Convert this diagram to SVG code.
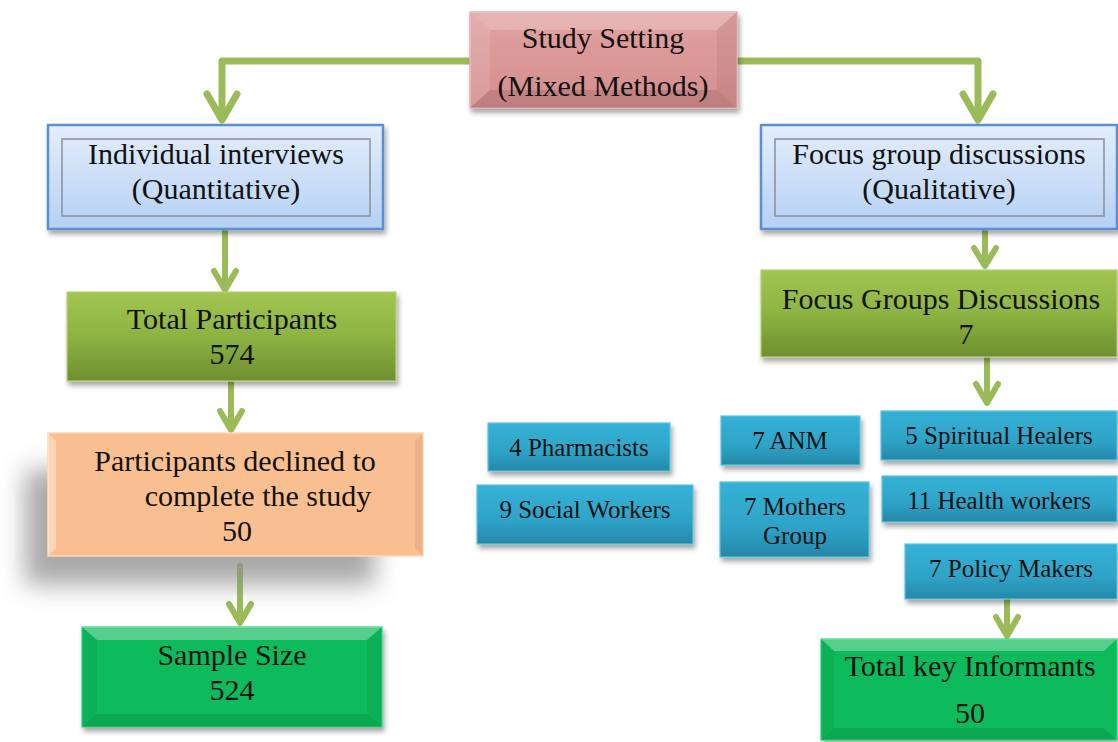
<svg xmlns="http://www.w3.org/2000/svg" width="1118" height="742" viewBox="0 0 1118 742">
  <defs>
    <linearGradient id="gPink" x1="0" y1="0" x2="0" y2="1">
      <stop offset="0" stop-color="#e0a3a2"/>
      <stop offset="1" stop-color="#d48d8c"/>
    </linearGradient>
    <linearGradient id="gFrame" x1="0" y1="0" x2="0" y2="1">
      <stop offset="0" stop-color="#e4eefb"/>
      <stop offset="1" stop-color="#b4d0f4"/>
    </linearGradient>
    <linearGradient id="gOlive" x1="0" y1="0" x2="0" y2="1">
      <stop offset="0" stop-color="#a3c552"/>
      <stop offset="0.5" stop-color="#8db342"/>
      <stop offset="1" stop-color="#6e8f2f"/>
    </linearGradient>
    <linearGradient id="gTeal" x1="0" y1="0" x2="0" y2="1">
      <stop offset="0" stop-color="#35b2d6"/>
      <stop offset="0.6" stop-color="#2ea3c7"/>
      <stop offset="1" stop-color="#2687a8"/>
    </linearGradient>
    <filter id="shadow" x="-10%" y="-10%" width="125%" height="135%">
      <feDropShadow dx="2" dy="4" stdDeviation="2.5" flood-color="#000" flood-opacity="0.35"/>
    </filter>
    <filter id="bigBlur" x="-30%" y="-40%" width="160%" height="180%">
      <feGaussianBlur stdDeviation="12"/>
    </filter>
  </defs>
  <style>
    text { font-family: "Liberation Serif", "Times New Roman", serif; fill: #111; text-anchor: middle; }
    .big { font-size: 30px; }
    .mid { font-size: 30px; }
    .sm { font-size: 25px; }
    .conn { fill: none; stroke: #9bbb59; stroke-width: 7; stroke-linecap: round; stroke-linejoin: round; }
    .conn2 { fill: none; stroke: #9bbb59; stroke-width: 6; stroke-linecap: round; stroke-linejoin: round; }
    .frame { fill: url(#gFrame); stroke: #5b8fd0; stroke-width: 2.5; filter: url(#shadow); }
    .inner { fill: none; stroke: #8a8f98; stroke-width: 1.5; }
    .teal { fill: url(#gTeal); stroke: #5cc3e0; stroke-width: 1.2; filter: url(#shadow); }
    .hi { fill: #ffffff; }
    .lo { fill: #000000; }
  </style>

  <!-- connectors -->
  <g id="connectors">
    <path class="conn" d="M470 61 H222 V119"/>
    <path class="conn" d="M207 94 L222 120 L237 94"/>
    <path class="conn" d="M737 61 H978 V119"/>
    <path class="conn" d="M963 94 L978 120 L993 94"/>
    <path class="conn2" d="M225 231 V289"/>
    <path class="conn2" d="M214 271 L225 290 L236 271"/>
    <path class="conn2" d="M231 383 V429"/>
    <path class="conn2" d="M220 411 L231 430 L242 411"/>
    <path class="conn2" d="M240 566 V622"/>
    <path class="conn2" d="M229 604 L240 623 L251 604"/>
    <path class="conn2" d="M985 231 V265"/>
    <path class="conn2" d="M974 248 L985 266 L996 248"/>
    <path class="conn2" d="M987 359 V402"/>
    <path class="conn2" d="M976 384 L987 403 L998 384"/>
    <path class="conn2" d="M1007 601 V635"/>
    <path class="conn2" d="M996 617 L1007 636 L1018 617"/>
  </g>

  <!-- Study Setting -->
  <g id="study-setting">
    <rect x="470" y="12" width="267" height="96" fill="url(#gPink)" stroke="#e6b3b2" stroke-width="1.5" filter="url(#shadow)"/>
    <polygon class="hi" opacity="0.2" points="470,12 737,12 717,30 490,30"/>
    <polygon class="hi" opacity="0.12" points="470,12 490,30 490,90 470,108"/>
    <polygon class="lo" opacity="0.06" points="737,12 737,108 717,90 717,30"/>
    <polygon class="lo" opacity="0.1" points="470,108 490,90 717,90 737,108"/>
    <text class="big" x="603" y="48">Study Setting</text>
    <text class="big" x="603" y="96">(Mixed Methods)</text>
  </g>

  <!-- Individual interviews -->
  <g id="individual-interviews">
    <rect class="frame" x="48" y="125" width="335" height="104"/>
    <rect class="inner" x="62" y="139" width="308" height="77"/>
    <text class="mid" x="216" y="164">Individual interviews</text>
    <text class="mid" x="216" y="199">(Quantitative)</text>
  </g>

  <!-- Focus group discussions -->
  <g id="focus-group-discussions">
    <rect class="frame" x="761" y="125" width="356" height="104"/>
    <rect class="inner" x="775" y="139" width="329" height="77"/>
    <text class="mid" x="939" y="164">Focus group discussions</text>
    <text class="mid" x="939" y="199">(Qualitative)</text>
  </g>

  <!-- Total Participants -->
  <g id="total-participants">
    <rect x="67" y="292" width="329" height="89" fill="url(#gOlive)" stroke="#b5d27a" stroke-width="1.2" filter="url(#shadow)"/>
    <text class="mid" x="232" y="329">Total Participants</text>
    <text class="mid" x="232" y="364">574</text>
  </g>

  <!-- Participants declined -->
  <g id="participants-declined">
    <rect x="25" y="470" width="350" height="115" fill="#8c8c8c" opacity="0.75" filter="url(#bigBlur)"/>
    <rect x="48" y="433" width="375" height="123" fill="#f9bf90" stroke="#fcd9bc" stroke-width="1.5"/>
    <polygon class="hi" opacity="0.35" points="48,433 56,441 56,548 48,556"/>
    <polygon class="lo" opacity="0.06" points="423,433 415,441 415,548 423,556"/>
    <text class="mid" x="235" y="471">Participants declined to</text>
    <text class="mid" x="258" y="506">complete the study</text>
    <text class="mid" x="237" y="541">50</text>
  </g>

  <!-- Sample Size -->
  <g id="sample-size">
    <rect x="82" y="627" width="300" height="100" fill="#0dbb5c" stroke="#33d57d" stroke-width="1.2" filter="url(#shadow)"/>
    <polygon class="hi" opacity="0.3" points="82,627 382,627 367,640 97,640"/>
    <polygon class="lo" opacity="0.06" points="82,627 97,640 97,714 82,727"/>
    <polygon class="lo" opacity="0.06" points="382,627 367,640 367,714 382,727"/>
    <polygon class="lo" opacity="0.1" points="82,727 97,714 367,714 382,727"/>
    <text class="mid" x="232" y="665">Sample Size</text>
    <text class="mid" x="232" y="700">524</text>
  </g>

  <!-- Focus Groups Discussions 7 -->
  <g id="focus-groups-7">
    <rect x="761" y="270" width="356" height="87" fill="url(#gOlive)" stroke="#b5d27a" stroke-width="1.2" filter="url(#shadow)"/>
    <text class="mid" x="941" y="309">Focus Groups Discussions</text>
    <text class="mid" x="966" y="344">7</text>
  </g>

  <!-- participant groups -->
  <g id="pharmacists">
    <rect class="teal" x="488" y="423" width="182" height="48"/>
    <text class="sm" x="579" y="456">4 Pharmacists</text>
  </g>
  <g id="social-workers">
    <rect class="teal" x="477" y="485" width="216" height="59"/>
    <text class="sm" x="585" y="518">9 Social Workers</text>
  </g>
  <g id="anm">
    <rect class="teal" x="721" y="416" width="139" height="49"/>
    <text class="sm" x="790" y="449">7 ANM</text>
  </g>
  <g id="mothers-group">
    <rect class="teal" x="720" y="482" width="149" height="75"/>
    <text class="sm" x="795" y="515">7 Mothers</text>
    <text class="sm" x="795" y="544">Group</text>
  </g>
  <g id="spiritual-healers">
    <rect class="teal" x="881" y="411" width="236" height="49"/>
    <text class="sm" x="999" y="444">5 Spiritual Healers</text>
  </g>
  <g id="health-workers">
    <rect class="teal" x="882" y="476" width="235" height="46"/>
    <text class="sm" x="999" y="509">11 Health workers</text>
  </g>
  <g id="policy-makers">
    <rect class="teal" x="905" y="544" width="212" height="55"/>
    <text class="sm" x="1011" y="577">7 Policy Makers</text>
  </g>

  <!-- Total key Informants -->
  <g id="total-key-informants">
    <rect x="821" y="639" width="296" height="101" fill="#0dbb5c" stroke="#33d57d" stroke-width="1.2" filter="url(#shadow)"/>
    <polygon class="hi" opacity="0.3" points="821,639 1117,639 1104,651 834,651"/>
    <polygon class="lo" opacity="0.06" points="821,639 834,651 834,728 821,740"/>
    <polygon class="lo" opacity="0.1" points="821,740 834,728 1104,728 1117,740"/>
    <text class="mid" x="970" y="676">Total key Informants</text>
    <text class="mid" x="970" y="723">50</text>
  </g>
</svg>
